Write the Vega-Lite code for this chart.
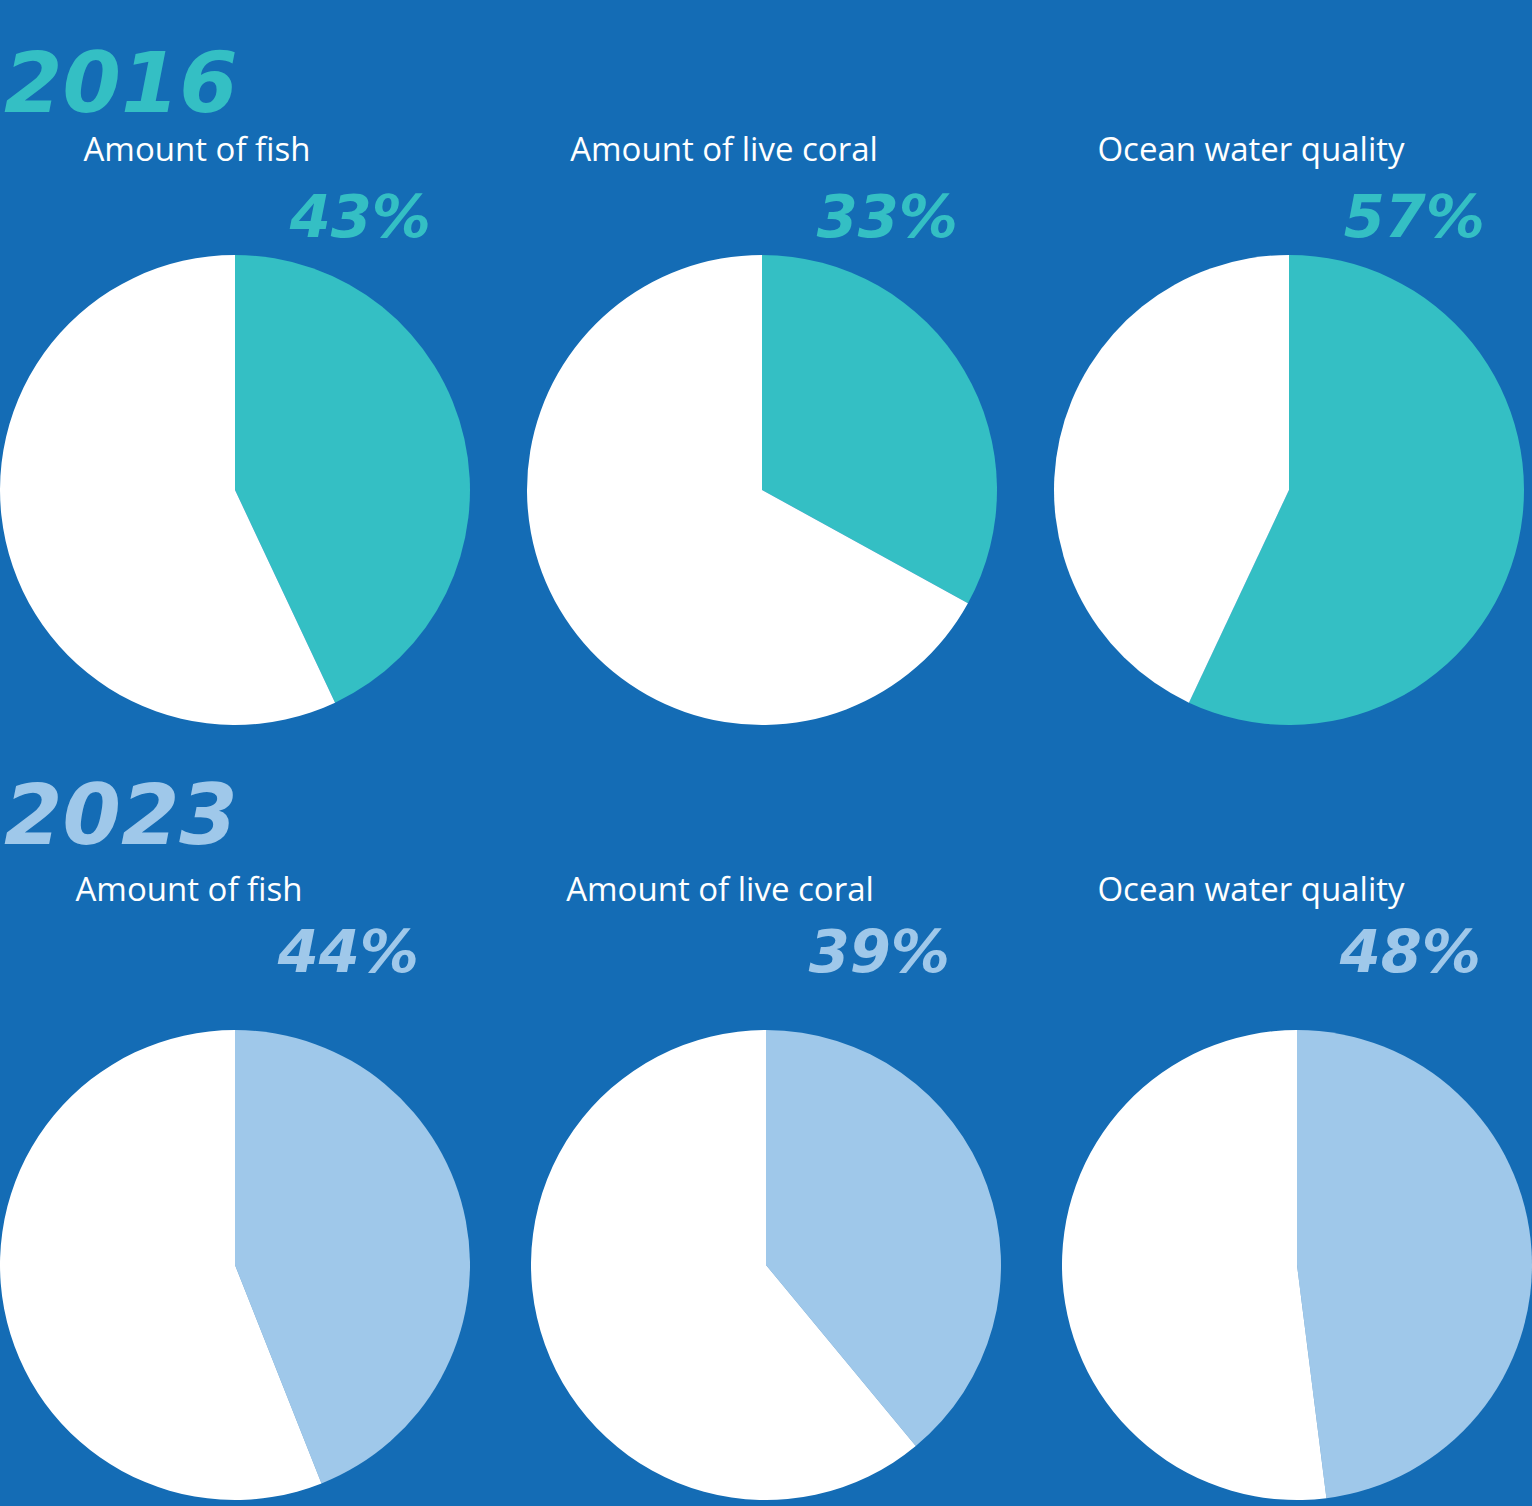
{
  "$schema": "https://vega.github.io/schema/vega-lite/v6.json",
  "background": "#146CB5",
  "padding": {"top": 45, "left": 0, "right": 0, "bottom": 6},
  "spacing": 52,
  "data": {
    "values": [
      {"year": "2016", "metric": "Amount of fish", "part": "Measured", "share": 0.43},
      {"year": "2016", "metric": "Amount of fish", "part": "Remaining", "share": 0.57},
      {"year": "2016", "metric": "Amount of live coral", "part": "Measured", "share": 0.33},
      {"year": "2016", "metric": "Amount of live coral", "part": "Remaining", "share": 0.67},
      {"year": "2016", "metric": "Ocean water quality", "part": "Measured", "share": 0.57},
      {"year": "2016", "metric": "Ocean water quality", "part": "Remaining", "share": 0.43},
      {"year": "2023", "metric": "Amount of fish", "part": "Measured", "share": 0.44},
      {"year": "2023", "metric": "Amount of fish", "part": "Remaining", "share": 0.56},
      {"year": "2023", "metric": "Amount of live coral", "part": "Measured", "share": 0.39},
      {"year": "2023", "metric": "Amount of live coral", "part": "Remaining", "share": 0.61},
      {"year": "2023", "metric": "Ocean water quality", "part": "Measured", "share": 0.48},
      {"year": "2023", "metric": "Ocean water quality", "part": "Remaining", "share": 0.52}
    ]
  },
  "resolve": {"scale": {"color": "independent"}},
  "vconcat": [
    {
      "title": {"text": "2016", "anchor": "start", "dx": 4, "color": "#34BFC4", "font": "DejaVu Sans", "fontSize": 84, "fontWeight": "bold", "fontStyle": "italic", "baseline": "alphabetic", "offset": -61, "frame": "group"},
      "transform": [{"filter": "datum.year == '2016'"}],
      "bounds": "flush",
      "spacing": {"column": 57},
      "facet": {"column": {"field": "metric", "type": "nominal", "header": null, "sort": ["Amount of fish", "Amount of live coral", "Ocean water quality"]}},
      "spec": {
        "width": 470,
        "height": 470,
        "view": {"stroke": null},
        "layer": [
          {
            "mark": {"type": "arc", "outerRadius": 235},
            "encoding": {
              "theta": {"field": "share", "type": "quantitative", "stack": true},
              "color": {"field": "part", "type": "nominal", "scale": {"domain": ["Measured", "Remaining"], "range": ["#34BFC4", "#FFFFFF"]}, "legend": null},
              "order": {"field": "part", "type": "nominal", "sort": "ascending"}
            }
          },
          {
            "transform": [{"filter": "datum.part == 'Measured'"}],
            "mark": {"type": "text", "font": "Open Sans", "fontSize": 33, "color": "#FFFFFF", "align": "center", "baseline": "alphabetic", "dx": -38, "dy": -329},
            "encoding": {"text": {"field": "metric", "type": "nominal"}}
          },
          {
            "transform": [{"filter": "datum.part == 'Measured'"}],
            "mark": {"type": "text", "font": "DejaVu Sans", "fontSize": 59, "fontWeight": "bold", "fontStyle": "italic", "color": "#34BFC4", "align": "right", "baseline": "alphabetic", "dx": 196, "dy": -253},
            "encoding": {"text": {"field": "share", "type": "quantitative", "format": ".0%"}}
          }
        ]
      }
    },
    {
      "title": {"text": "2023", "anchor": "start", "dx": 4, "color": "#9FC8EA", "font": "DejaVu Sans", "fontSize": 84, "fontWeight": "bold", "fontStyle": "italic", "baseline": "alphabetic", "offset": -53, "frame": "group"},
      "transform": [{"filter": "datum.year == '2023'"}],
      "bounds": "flush",
      "spacing": {"column": 61},
      "facet": {"column": {"field": "metric", "type": "nominal", "header": null, "sort": ["Amount of fish", "Amount of live coral", "Ocean water quality"]}},
      "spec": {
        "width": 470,
        "height": 470,
        "view": {"stroke": null},
        "layer": [
          {
            "mark": {"type": "arc", "outerRadius": 235},
            "encoding": {
              "theta": {"field": "share", "type": "quantitative", "stack": true},
              "color": {"field": "part", "type": "nominal", "scale": {"domain": ["Measured", "Remaining"], "range": ["#9FC8EA", "#FFFFFF"]}, "legend": null},
              "order": {"field": "part", "type": "nominal", "sort": "ascending"}
            }
          },
          {
            "transform": [{"filter": "datum.part == 'Measured'"}],
            "mark": {"type": "text", "font": "Open Sans", "fontSize": 33, "color": "#FFFFFF", "align": "center", "baseline": "alphabetic", "dx": -46, "dy": -364},
            "encoding": {"text": {"field": "metric", "type": "nominal"}}
          },
          {
            "transform": [{"filter": "datum.part == 'Measured'"}],
            "mark": {"type": "text", "font": "DejaVu Sans", "fontSize": 59, "fontWeight": "bold", "fontStyle": "italic", "color": "#9FC8EA", "align": "right", "baseline": "alphabetic", "dx": 184, "dy": -293},
            "encoding": {"text": {"field": "share", "type": "quantitative", "format": ".0%"}}
          }
        ]
      }
    }
  ]
}
